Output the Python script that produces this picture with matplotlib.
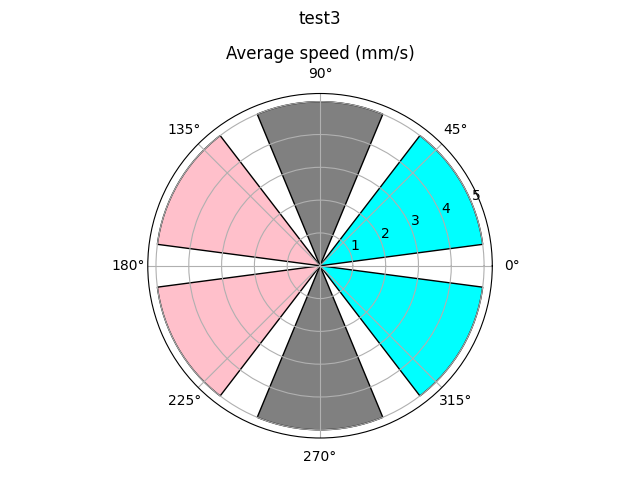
import numpy as np
import matplotlib
matplotlib.use("Agg")
import matplotlib.pyplot as plt

angles_deg = [30, 90, 150, 210, 270, 330]
speeds = [5, 5, 5, 5, 5, 5]
colors = ["cyan", "gray", "pink", "pink", "gray", "cyan"]
width_deg = 45

fig = plt.figure(figsize=(6.4, 4.8), dpi=100)
ax = fig.add_axes([0.2302, 0.0875, 0.5397, 0.7177], projection="polar")
ax.bar(np.deg2rad(angles_deg), speeds, width=np.deg2rad(width_deg),
       color=colors, edgecolor="black")
ax.set_title("Average speed (mm/s)")
fig.suptitle("test3")
fig.savefig("out.png")
